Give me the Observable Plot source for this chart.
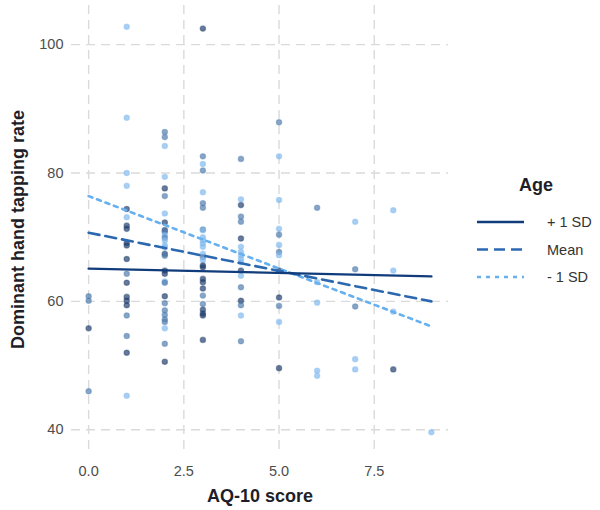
<!DOCTYPE html>
<html><head><meta charset="utf-8">
<script src="https://cdn.jsdelivr.net/npm/d3@7"></script>
<script src="https://cdn.jsdelivr.net/npm/@observablehq/plot@0.6"></script>
<style>
body{margin:0;background:#fff;font-family:"Liberation Sans",Arial,sans-serif;}
#wrap{position:relative;width:600px;height:510px;}
#legend{position:absolute;left:0;top:0;pointer-events:none;}
</style></head><body><div id="wrap"></div>
<script>
// AQ-10 score columns
const aqScores = [0, 1, 2, 3, 4, 5, 6, 7, 8, 9];
// Dominant hand tapping rate per AQ-10 score
const rates = [
  [60.8, 60.1, 55.8, 46.0],
  [102.8, 88.6, 80.0, 78.0, 74.4, 73.1, 71.8, 71.3, 69.1, 68.7, 66.6, 64.3, 62.9, 60.7, 60.1, 59.4, 57.8, 54.6, 52.0, 45.3],
  [86.4, 85.6, 84.2, 79.4, 77.6, 76.4, 73.7, 72.3, 71.1, 70.8, 70.3, 69.9, 69.5, 68.7, 68.4, 67.4, 67.1, 64.8, 64.3, 63.1, 62.9, 60.8, 59.7, 58.6, 57.9, 57.2, 56.8, 55.8, 53.4, 50.6],
  [102.5, 82.6, 81.4, 80.4, 77.0, 75.3, 74.6, 71.2, 71.1, 70.0, 69.5, 69.0, 68.5, 67.4, 66.9, 66.4, 65.6, 65.3, 63.5, 63.0, 62.0, 60.9, 59.6, 58.7, 58.1, 57.8, 54.0],
  [82.2, 75.9, 75.0, 73.2, 72.4, 69.8, 68.5, 67.7, 67.2, 66.6, 66.1, 64.8, 64.0, 62.2, 60.1, 59.4, 57.8, 53.8],
  [87.9, 82.6, 75.8, 71.3, 70.4, 68.8, 67.7, 67.2, 64.8, 60.6, 59.3, 56.8, 49.6],
  [74.6, 63.0, 59.8, 49.2, 48.4],
  [72.4, 65.0, 59.2, 51.0, 49.4],
  [74.2, 64.8, 58.4, 49.4],
  [39.6]
];
// Standardised age of each participant (same order as rates)
const ages = [
  [0, 0, 1, 0],
  [-1, -1, -1, -1, 1, -1, 1, 1, 1, 1, 1, 0, 1, 1, 1, 1, 0, 0, 1, -1],
  [0, 0, -1, -1, 1, 0, -1, 1, 1, 0, -1, 0, -1, -1, -1, 1, 0, 1, 1, -1, 0, 1, 0, 0, 0, 0, 0, -1, 0, 1],
  [1, 0, -1, 0, -1, 0, 0, 0, -1, -1, -1, -1, -1, -1, 0, -1, 1, 1, 1, 1, 1, 0, 0, 1, 1, 1, 1],
  [0, -1, 1, 0, 0, 1, -1, -1, -1, -1, -1, 1, -1, 0, 1, 0, -1, 0],
  [0, -1, -1, -1, 0, -1, 0, -1, 1, 1, 0, -1, 1],
  [0, -1, -1, -1, -1],
  [-1, 0, 0, -1, -1],
  [-1, -1, -1, 1],
  [-1]
];
// Simple slopes: predicted rate at AQ-10 = 0 and AQ-10 = 9
const slopeX = [0, 9];
const plusSD = [65.1, 63.9];
const meanAge = [70.7, 60.0];
const minusSD = [76.4, 56.1];
const legendLabels = ["+ 1 SD", "Mean", "- 1 SD"];

const points = [];
aqScores.forEach((a, i) => rates[i].forEach((r, j) => points.push({aq: a, rate: r, age: ages[i][j]})));
const mkLine = (ys) => slopeX.map((x, i) => ({aq: x, rate: ys[i]}));

const grid = {stroke: "#dadada", strokeOpacity: 1, strokeWidth: 1.4, strokeDasharray: "9,6"};
const chart = Plot.plot({
  width: 600, height: 510,
  marginLeft: 71, marginRight: 152, marginTop: 5, marginBottom: 57,
  style: {fontFamily: "'Liberation Sans', Arial, sans-serif", background: "#fff"},
  x: {domain: [-0.45, 9.45]},
  y: {domain: [36.3, 106.1]},
  color: {type: "linear", domain: [-1, 1], range: ["#7fb8ee", "#1d3b6b"]},
  marks: [
    Plot.gridX([0, 2.5, 5, 7.5], grid),
    Plot.gridY([40, 60, 80, 100], grid),
    Plot.axisX([0, 2.5, 5, 7.5], {tickSize: 0, tickPadding: 12, fontSize: 14.5, fill: "#4d4d4d", tickFormat: d3.format(".1f"), label: null}),
    Plot.axisY([40, 60, 80, 100], {tickSize: 0, tickPadding: 8, fontSize: 14.5, fill: "#4d4d4d", label: null}),
    Plot.dot(points, {x: "aq", y: "rate", fill: "age", stroke: "age", r: 2.7, fillOpacity: 0.68, strokeOpacity: 0.4, strokeWidth: 1.2}),
    Plot.line(mkLine(minusSD), {x: "aq", y: "rate", stroke: "#66b0f0", strokeWidth: 2.6, strokeDasharray: "4,5"}),
    Plot.line(mkLine(meanAge), {x: "aq", y: "rate", stroke: "#2c68b0", strokeWidth: 2.6, strokeDasharray: "11,6"}),
    Plot.line(mkLine(plusSD), {x: "aq", y: "rate", stroke: "#113c7b", strokeWidth: 2.4}),
    Plot.text(["AQ-10 score"], {frameAnchor: "bottom", dy: 43, lineAnchor: "middle", textAnchor: "middle", fontSize: 18, fontWeight: "bold", fill: "#1e1e28"}),
    Plot.text(["Dominant hand tapping rate"], {frameAnchor: "left", dx: -53, rotate: -90, lineAnchor: "middle", textAnchor: "middle", fontSize: 18, fontWeight: "bold", fill: "#1e1e28"})
  ]
});
const wrap = document.getElementById("wrap");
wrap.appendChild(chart);

// Legend
const ns = "http://www.w3.org/2000/svg";
const leg = document.createElementNS(ns, "svg");
leg.setAttribute("id", "legend");
leg.setAttribute("width", 600);
leg.setAttribute("height", 510);
const styles = [
  {stroke: "#113c7b", dash: null, w: 2.4},
  {stroke: "#2c68b0", dash: "11,6", w: 2.6},
  {stroke: "#66b0f0", dash: "4,5", w: 2.6}
];
let html = `<text x="536" y="185" text-anchor="middle" dominant-baseline="central" font-family="Liberation Sans, Arial, sans-serif" font-size="18" font-weight="bold" fill="#1e1e28">Age</text>`;
legendLabels.forEach((lab, i) => {
  const y = 222 + i * 27.5;
  const s = styles[i];
  html += `<line x1="477" x2="524" y1="${y}" y2="${y}" stroke="${s.stroke}" stroke-width="${s.w}" ${s.dash ? `stroke-dasharray="${s.dash}"` : ""}/>`;
  html += `<text x="547" y="${y}" dominant-baseline="central" font-family="Liberation Sans, Arial, sans-serif" font-size="14.5" fill="#333">${lab}</text>`;
});
leg.innerHTML = html;
wrap.appendChild(leg);
</script></body></html>
